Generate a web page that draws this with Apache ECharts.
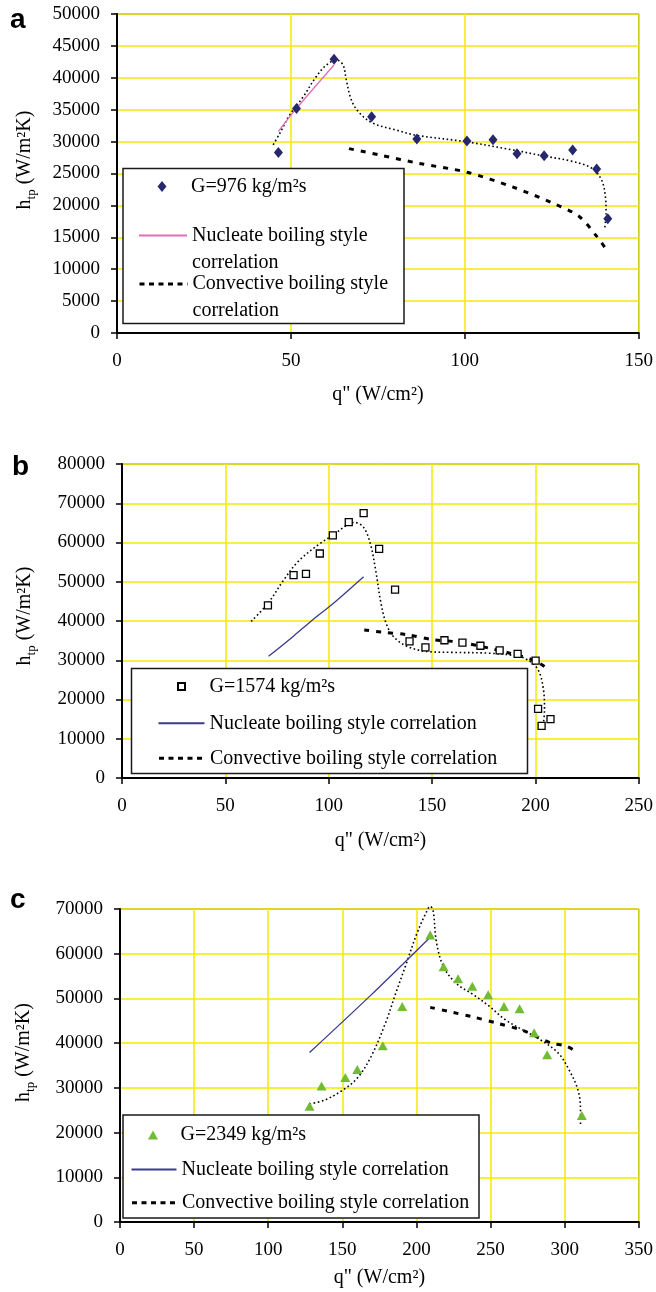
<!DOCTYPE html>
<html>
<head>
<meta charset="utf-8">
<script src="https://cdn.jsdelivr.net/npm/echarts@6.0.0/dist/echarts.min.js"></script>
<style>
  html, body { margin: 0; padding: 0; background: #ffffff; }
  #chart { width: 656px; height: 1292px; }
</style>
</head>
<body>
<div id="chart"></div>
<script>
// ---- Panel a: G = 976 kg/m2s ----
const aMeasured = [[46.4,28300],[51.6,35200],[62.4,42900],[73.2,33900],[86.2,30400],[100.6,30100],[108.1,30300],[115.0,28100],[122.8,27800],[131.0,28700],[137.9,25700],[141.1,17900]];
const aNucleate = [[46.4,31600],[51.6,35200],[62.4,42000]];
const aConvective = [[66.7,28900],[75.5,27900],[86.7,26600],[100.6,25200],[113.7,22900],[125.1,20400],[132.8,18300],[138.0,15100],[140.4,13300]];
const aTrend = [[44.9,29500],[46.8,31300],[49.7,34200],[53.5,37000],[57.3,40200],[60.2,42000],[63.1,42800],[65.0,42000],[65.9,39700],[67.4,36500],[69.7,34500],[73.5,32900],[80.3,31800],[86.0,31000],[100.1,30000],[113.7,28700],[123.2,27700],[130.9,26900],[136.6,25800],[139.3,24000],[140.4,21400],[140.6,18800],[140.2,16400]];

// ---- Panel b: G = 1574 kg/m2s ----
const bMeasured = [[70.6,44000],[83.0,51700],[89.0,52000],[95.7,57200],[102.0,61800],[109.7,65200],[116.9,67500],[124.4,58400],[132.1,48000],[139.1,34800],[146.8,33300],[156.0,35100],[164.7,34500],[173.4,33700],[182.7,32500],[191.4,31600],[200.1,29900],[201.3,17600],[203.0,13300],[207.3,15000]];
const bNucleate = [[70.9,31000],[83.1,36200],[91.3,39900],[102.0,44400],[116.9,51300]];
const bConvective = [[117.2,37700],[125.3,37200],[138.1,36500],[150.9,35200],[163.7,34600],[177.4,33100],[187.6,31800],[199.6,29900],[207.3,27400]];
const bTrend = [[62.5,39900],[70.6,44500],[78.3,50500],[85.1,55100],[95.4,59600],[102.2,61900],[109.0,64500],[112.4,65100],[116.7,64000],[120.1,59800],[122.7,53000],[125.3,44500],[127.8,39400],[131.2,36100],[138.1,33500],[148.3,32200],[160.3,32000],[177.4,31800],[191.0,31100],[196.2,30100],[201.3,27600],[203.9,22500],[204.4,17400],[203.9,14000]];

// ---- Panel c: G = 2349 kg/m2s ----
const cMeasured = [[127.9,25900],[136.0,30400],[152.0,32300],[160.1,34100],[177.3,39400],[190.4,48200],[209.3,64200],[218.3,57100],[228.1,54400],[237.7,52700],[248.4,50800],[259.1,48200],[269.6,47700],[279.4,42300],[288.2,37400],[311.6,23800]];
const cNucleate = [[127.9,37900],[168.2,50400],[209.3,63700]];
const cConvective = [[209.3,48000],[224.3,46900],[237.7,45900],[255.3,44400],[272.0,42800],[291.1,40000],[300.6,39400],[309.0,37900]];
const cTrend = [[127.9,26400],[138.4,27300],[150.3,29500],[159.9,32100],[169.4,37000],[179.0,44400],[186.1,51200],[193.3,57900],[200.4,64600],[206.4,69100],[209.3,70600],[211.2,69800],[213.6,62400],[218.3,57100],[226.7,53400],[238.6,50800],[248.2,48500],[260.1,45200],[272.0,42900],[283.9,40700],[295.9,37700],[303.0,34000],[309.0,29500],[310.7,25000],[310.7,21400]];

// Axis ranges and legend texts
const xRanges = [[0, 150, 50], [0, 250, 50], [0, 350, 50]];
const yRanges = [[0, 50000, 5000], [0, 80000, 10000], [0, 70000, 10000]];
const seriesLabels = ['G=976 kg/m²s', 'G=1574 kg/m²s', 'G=2349 kg/m²s'];
const nucleateText = 'Nucleate boiling style correlation';
const convectiveText = 'Convective boiling style correlation';
const xTitle = 'q" (W/cm²)';
const panelLetters = ['a', 'b', 'c'];

const SERIF = '"Liberation Serif", "Times New Roman", serif';
const YELLOW = '#f3ea00';

const grids = [
  { left: 117, top: 14, width: 523, height: 319 },
  { left: 122, top: 464, width: 518, height: 314 },
  { left: 120, top: 909, width: 520, height: 313 }
];
const xNameGap = [50, 51, 44];
const yNameGap = [79, 84, 83];
const yNameShift = [27, 10, 26];

const xAxes = xRanges.map((r, i) => ({
  type: 'value', gridIndex: i, min: r[0], max: r[1], interval: r[2],
  name: xTitle, nameLocation: 'middle', nameGap: xNameGap[i],
  nameTextStyle: { fontFamily: SERIF, fontSize: 20, color: '#000', lineHeight: 24 },
  axisLine: { show: true, onZero: false, lineStyle: { color: '#000', width: 2 } },
  axisTick: { show: true, inside: false, length: 6, lineStyle: { color: '#000', width: 1.5 } },
  axisLabel: { fontFamily: SERIF, fontSize: 19, color: '#000', margin: 17, lineHeight: 22, hideOverlap: false,
    showMinLabel: true, showMaxLabel: true },
  splitLine: { show: true, lineStyle: { color: YELLOW, width: 1.5 } }
}));

const yAxes = yRanges.map((r, i) => ({
  type: 'value', gridIndex: i, min: r[0], max: r[1], interval: r[2],
  name: '{m|h}{s|tp}{m| (W/m²K)}', nameLocation: 'middle', nameGap: yNameGap[i], nameRotate: 90,
  nameTextStyle: {
    padding: [0, 0, 0, yNameShift[i]],
    rich: {
      m: { fontFamily: SERIF, fontSize: 20, color: '#000', lineHeight: 26, verticalAlign: 'middle' },
      s: { fontFamily: SERIF, fontSize: 13, color: '#000', lineHeight: 14, verticalAlign: 'bottom' }
    }
  },
  axisLine: { show: true, onZero: false, lineStyle: { color: '#000', width: 2 } },
  axisTick: { show: true, inside: false, length: 6, lineStyle: { color: '#000', width: 1.5 } },
  axisLabel: { fontFamily: SERIF, fontSize: 19, color: '#000', margin: 17, hideOverlap: false,
    showMinLabel: true, showMaxLabel: true, formatter: v => String(v) },
  splitLine: { show: true, lineStyle: { color: YELLOW, width: 1.5 } }
}));

const markerStyles = [
  { symbol: 'diamond', symbolSize: [9, 11], itemStyle: { color: '#27276e', opacity: 1 } },
  { symbol: 'rect', symbolSize: 7, itemStyle: { color: '#ffffff', borderColor: '#000', borderWidth: 1.3, opacity: 1 } },
  { symbol: 'triangle', symbolSize: [10, 9], itemStyle: { color: '#72bb34', opacity: 1 } }
];
const nucleateColors = ['#e36cb8', '#3a3a8e', '#3a3a8e'];

const measuredSets = [aMeasured, bMeasured, cMeasured];
const nucleateSets = [aNucleate, bNucleate, cNucleate];
const convectiveSets = [aConvective, bConvective, cConvective];
const trendSets = [aTrend, bTrend, cTrend];

const series = [];
for (let i = 0; i < 3; i++) {
  series.push({
    name: 'trend' + i, type: 'line', xAxisIndex: i, yAxisIndex: i,
    data: trendSets[i], symbol: 'none', smooth: 0.35, clip: false, z: 2,
    lineStyle: { color: '#000', width: 1.6, type: [1.6, 2.6] }
  });
  series.push({
    name: 'conv' + i, type: 'line', xAxisIndex: i, yAxisIndex: i,
    data: convectiveSets[i], symbol: 'none', smooth: 0.3, z: 2,
    itemStyle: { color: '#000' },
    lineStyle: { color: '#000', width: 3, type: [5, 7] }
  });
  series.push({
    name: 'nuc' + i, type: 'line', xAxisIndex: i, yAxisIndex: i,
    data: nucleateSets[i], symbol: 'none', smooth: 0.3, z: 2,
    itemStyle: { color: nucleateColors[i] },
    lineStyle: { color: nucleateColors[i], width: 1.3 }
  });
  series.push(Object.assign({
    name: 'meas' + i, type: 'scatter', xAxisIndex: i, yAxisIndex: i,
    data: measuredSets[i], z: 4
  }, markerStyles[i]));
}

// Legend entries: one legend component per row so rows sit where they belong
const legendRows = [
  { x: 138, w: 48, rows: [186.6, 235.6, 284], wrap: true },
  { x: 157.5, w: 46, rows: [686.6, 723.3, 758.3], wrap: false },
  { x: 130.5, w: 45, rows: [1135, 1169.4, 1202.7], wrap: false }
];
const markerIconSize = [[9, 11], [7, 7], [10, 9]];
const legends = [];
legendRows.forEach((p, i) => {
  const lineBase = {
    orient: 'horizontal', padding: 0, itemWidth: p.w, itemHeight: 10,
    selectedMode: false, left: p.x, z: 6,
    itemStyle: { opacity: 0 },
    textStyle: { fontFamily: SERIF, fontSize: 20, color: '#000', lineHeight: 24 }
  };
  const dashLegend = { lineStyle: { width: 3, type: [5, 4.5] } };
  // marker row: a small symbol centred over the line samples, text pushed to the common column
  const iw = markerIconSize[i][0], ih = markerIconSize[i][1];
  const mLeft = p.x + p.w / 2 - iw / 2;
  legends.push({
    orient: 'horizontal', padding: 0, itemWidth: iw, itemHeight: ih,
    selectedMode: false, left: mLeft, top: p.rows[0] - 12, z: 6,
    data: ['meas' + i], formatter: seriesLabels[i],
    textStyle: { fontFamily: SERIF, fontSize: 20, color: '#000', lineHeight: 24,
      padding: [0, 0, 0, p.x + p.w - mLeft - iw] }
  });
  if (p.wrap) {
    const L = 27;
    const ts = { fontFamily: SERIF, fontSize: 20, color: '#000', lineHeight: L };
    legends.push(Object.assign({}, lineBase, { data: ['nuc' + i], top: p.rows[1] - 1.5 * L, textStyle: ts,
      formatter: '\nNucleate boiling style\ncorrelation' }));
    legends.push(Object.assign({}, lineBase, dashLegend, { data: ['conv' + i], top: p.rows[2] - 1.5 * L, textStyle: ts,
      formatter: '\nConvective boiling style\ncorrelation' }));
  } else {
    legends.push(Object.assign({}, lineBase, { data: ['nuc' + i], top: p.rows[1] - 12, formatter: nucleateText }));
    legends.push(Object.assign({}, lineBase, dashLegend, { data: ['conv' + i], top: p.rows[2] - 12, formatter: convectiveText }));
  }
});

// Legend frames and panel letters
const legendBoxes = [
  [123, 168.5, 281, 155],
  [131.5, 668.5, 396, 105],
  [123, 1115, 356, 103]
];
const letterPos = [[10, 6], [12, 453], [10, 886]];
const graphics = [];
legendBoxes.forEach(b => graphics.push({
  type: 'rect', shape: { x: b[0], y: b[1], width: b[2], height: b[3] }, z: 5,
  style: { fill: '#ffffff', stroke: '#1a1a1a', lineWidth: 1.5 }
}));
panelLetters.forEach((t, i) => graphics.push({
  type: 'text', left: letterPos[i][0], top: letterPos[i][1], z: 5,
  style: { text: t, font: 'bold 28px "Liberation Sans", Arial, sans-serif', fill: '#000' }
}));

const chart = echarts.init(document.getElementById('chart'), null, { renderer: 'canvas' });
chart.setOption({
  backgroundColor: '#ffffff',
  animation: false,
  grid: grids.map(g => Object.assign({ show: true, borderColor: '#3a3a3a', borderWidth: 1, backgroundColor: 'transparent', containLabel: false }, g)),
  xAxis: xAxes,
  yAxis: yAxes,
  legend: legends,
  graphic: graphics,
  series: series
});
</script>
</body>
</html>
